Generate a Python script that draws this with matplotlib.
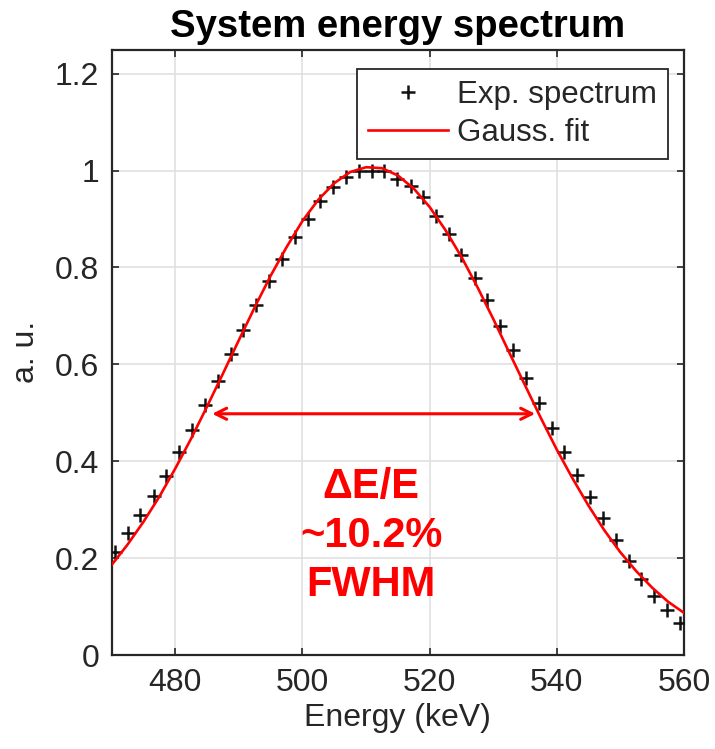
import matplotlib
matplotlib.use("Agg")
import matplotlib.pyplot as plt

plt.rcParams['font.family'] = ['Liberation Sans', 'DejaVu Sans']

# ---- data ----
exp_energy = [470.5, 472.5, 474.5, 476.6, 478.6, 480.6, 482.6, 484.6, 486.7, 488.7,
              490.7, 492.7, 494.7, 496.8, 498.8, 500.8, 502.8, 504.8, 506.9, 508.9,
              510.9, 512.9, 514.9, 517.0, 519.0, 521.0, 523.0, 525.0, 527.1, 529.1,
              531.1, 533.1, 535.1, 537.2, 539.2, 541.2, 543.2, 545.2, 547.3, 549.3,
              551.3, 553.3, 555.3, 557.4, 559.4]
exp_counts = [0.213, 0.251, 0.289, 0.328, 0.369, 0.419, 0.464, 0.516, 0.566, 0.621,
              0.671, 0.722, 0.773, 0.818, 0.862, 0.901, 0.937, 0.967, 0.986, 1.000,
              1.000, 1.000, 0.983, 0.969, 0.945, 0.907, 0.869, 0.826, 0.779, 0.732,
              0.680, 0.629, 0.572, 0.521, 0.469, 0.419, 0.371, 0.326, 0.282, 0.237,
              0.194, 0.156, 0.122, 0.093, 0.067]

fit_energy = [470.0, 472.5, 475.0, 477.5, 480.0, 482.5, 485.0, 487.5, 490.0, 492.5,
              495.0, 497.5, 500.0, 502.5, 505.0, 507.5, 510.0, 512.5, 515.0, 517.5,
              520.0, 522.5, 525.0, 527.5, 530.0, 532.5, 535.0, 537.5, 540.0, 542.5,
              545.0, 547.5, 550.0, 552.5, 555.0, 557.5, 560.0]
fit_counts = [0.186, 0.228, 0.275, 0.327, 0.385, 0.447, 0.513, 0.581, 0.650, 0.718,
              0.783, 0.842, 0.896, 0.940, 0.974, 0.997, 1.007, 1.005, 0.990, 0.963,
              0.925, 0.877, 0.822, 0.760, 0.694, 0.625, 0.557, 0.489, 0.424, 0.364,
              0.308, 0.257, 0.212, 0.173, 0.139, 0.110, 0.087]

x_ticks = [480, 500, 520, 540, 560]
y_ticks = [0, 0.2, 0.4, 0.6, 0.8, 1.0, 1.2]
y_tick_labels = ["0", "0.2", "0.4", "0.6", "0.8", "1", "1.2"]

fwhm_left, fwhm_right, fwhm_level = 485.8, 536.6, 0.498
annot_lines = ["\u0394E/E", "~10.2%", "FWHM"]

# ---- figure ----
fig = plt.figure(figsize=(7.15, 7.49), dpi=100)
ax = fig.add_axes([0.1562, 0.1255, 0.8004, 0.8084])

dark = '#262626'
ax.plot(exp_energy, exp_counts, linestyle='none', marker='+', color='#111111',
        markersize=10, markeredgewidth=1.8, label='Exp. spectrum', zorder=3)
ax.plot(fit_energy, fit_counts, color='#ff0000', lw=1.9, label='Gauss. fit', zorder=4)

ax.set_xlim(470, 560)
ax.set_ylim(0, 1.25)
ax.set_xticks(x_ticks)
ax.set_yticks(y_ticks)
ax.set_yticklabels(y_tick_labels)
ax.grid(True, color='#e0e0e0', lw=1.2)
ax.set_axisbelow(True)
ax.tick_params(direction='in', length=5, width=1.2, top=True, right=True,
               labelsize=23, labelcolor=dark, color=dark, pad=9)
for s in ax.spines.values():
    s.set_color(dark)
    s.set_linewidth(1.6)

ax.set_xlabel('Energy (keV)', fontsize=23, color=dark, labelpad=4)
ax.set_ylabel('a. u.', fontsize=23, color=dark, labelpad=10)
ax.set_title('System energy spectrum', fontsize=27.5, fontweight='bold', pad=9)

leg = ax.legend(loc='upper right', bbox_to_anchor=(0.972, 0.968), borderaxespad=0,
                fontsize=22.5, fancybox=False, framealpha=1, edgecolor=dark,
                handlelength=2.55, handletextpad=0.28, borderpad=0.36, labelspacing=0.24)
leg.get_frame().set_linewidth(1.3)
for t in leg.get_texts():
    t.set_color(dark)

ax.annotate('', xy=(fwhm_left, fwhm_level), xytext=(fwhm_right, fwhm_level),
            arrowprops=dict(arrowstyle='<->', color='#ff0000', lw=2.2,
                            shrinkA=0, shrinkB=0, mutation_scale=20))
for i, line in enumerate(annot_lines):
    ax.text(510.8, 0.346 - i * 0.101, line, color='#ff0000', fontsize=30,
            fontweight='bold', ha='center', va='center')

fig.savefig('out.png', dpi=100)
